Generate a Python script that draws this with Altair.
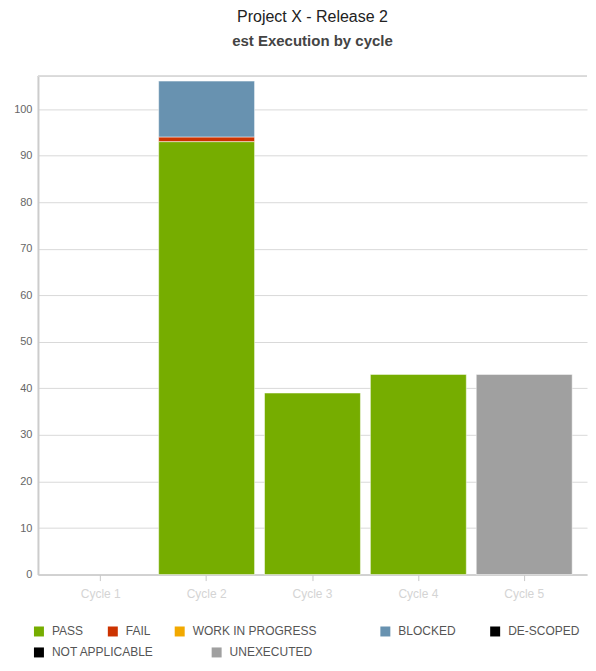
import altair as alt
import pandas as pd

cycles = ["Cycle 1", "Cycle 2", "Cycle 3", "Cycle 4", "Cycle 5"]
statuses = ["PASS", "FAIL", "WORK IN PROGRESS", "BLOCKED", "DE-SCOPED",
            "NOT APPLICABLE", "UNEXECUTED"]
colors = ["#76ad00", "#cc3300", "#f2a900", "#6892b0", "#000000",
          "#000000", "#a0a0a0"]

pass_v = [0, 93, 39, 43, 0]
fail_v = [0, 1, 0, 0, 0]
wip_v = [0, 0, 0, 0, 0]
blocked_v = [0, 12, 0, 0, 0]
descoped_v = [0, 0, 0, 0, 0]
na_v = [0, 0, 0, 0, 0]
unexec_v = [0, 0, 0, 0, 43]

series = [pass_v, fail_v, wip_v, blocked_v, descoped_v, na_v, unexec_v]
rows = []
for si, (s, vals) in enumerate(zip(statuses, series)):
    for c, v in zip(cycles, vals):
        rows.append({"cycle": c, "status": s, "order": si, "count": v})
df = pd.DataFrame(rows)

font = "Liberation Sans"

x_enc = alt.X("cycle:N", sort=cycles, title=None,
              scale=alt.Scale(domain=cycles, paddingInner=0.094, paddingOuter=0.14),
              axis=alt.Axis(labelAngle=0, labelColor="#d4d4d4", labelFontSize=12,
                            labelPadding=8, domainColor="#c8c8c8", domainWidth=1.5,
                            tickColor="#c8c8c8", tickSize=6, grid=False))
y_scale = alt.Scale(domain=[0, 107], nice=False)

bars = alt.Chart(df).transform_filter("datum.count > 0").mark_bar(
    stroke="white", strokeWidth=0.5
).encode(
    x=x_enc,
    y=alt.Y("count:Q", title=None, stack="zero", scale=y_scale,
            axis=alt.Axis(values=list(range(0, 101, 10)), labelColor="#666666",
                          labelFontSize=11, labelPadding=6, tickSize=0,
                          domainColor="#cccccc", domainWidth=2,
                          gridColor="#d9d9d9", gridWidth=1)),
    color=alt.Color("status:N", scale=alt.Scale(domain=statuses, range=colors),
                    legend=None),
    order=alt.Order("order:Q"),
)


def legend_layer(idx, lx, ly, pad):
    dom = [statuses[i] for i in idx]
    rng = [colors[i] for i in idx]
    return alt.Chart(df).transform_filter(
        alt.FieldOneOfPredicate(field="status", oneOf=dom)
    ).transform_filter("datum.count == 0").mark_bar(strokeWidth=0).encode(
        x=x_enc,
        y=alt.Y("count:Q", stack=None, scale=y_scale, title=None),
        color=alt.Color("status:N", title=None,
                        scale=alt.Scale(domain=dom, range=rng),
                        legend=alt.Legend(orient="none", legendX=lx, legendY=ly,
                                          direction="horizontal",
                                          columnPadding=pad, padding=0,
                                          symbolType="square", symbolSize=100,
                                          symbolStrokeWidth=0, symbolOpacity=1,
                                          labelFontSize=12, labelColor="#555555",
                                          labelFont=font, labelOffset=7)),
    )


leg1 = legend_layer([0, 1, 2], -5, 550, 23)
leg2 = legend_layer([3, 4], 342, 550, 33)
leg3 = legend_layer([5, 6], -5, 571, 56)

top_line = alt.Chart(df).mark_rule(color="#d9d9d9", strokeWidth=1).encode(
    y=alt.value(0)
)

chart = alt.layer(top_line, bars, leg1, leg2, leg3).resolve_scale(
    color="independent"
).properties(
    width=550,
    height=499,
    padding={"left": 5, "top": 0, "right": 0, "bottom": 0},
    title=alt.TitleParams(
        "Project X - Release 2",
        subtitle="est Execution by cycle",
        fontSize=16, fontWeight="normal", color="#222222", font=font,
        subtitleFontSize=15, subtitleFontWeight="bold", subtitleColor="#444444",
        subtitleFont=font, subtitlePadding=9, offset=27, anchor="middle",
    ),
).configure_view(stroke=None).configure_axis(labelFont=font)

chart.save("out.html", embed_options={"renderer": "svg", "actions": False})
